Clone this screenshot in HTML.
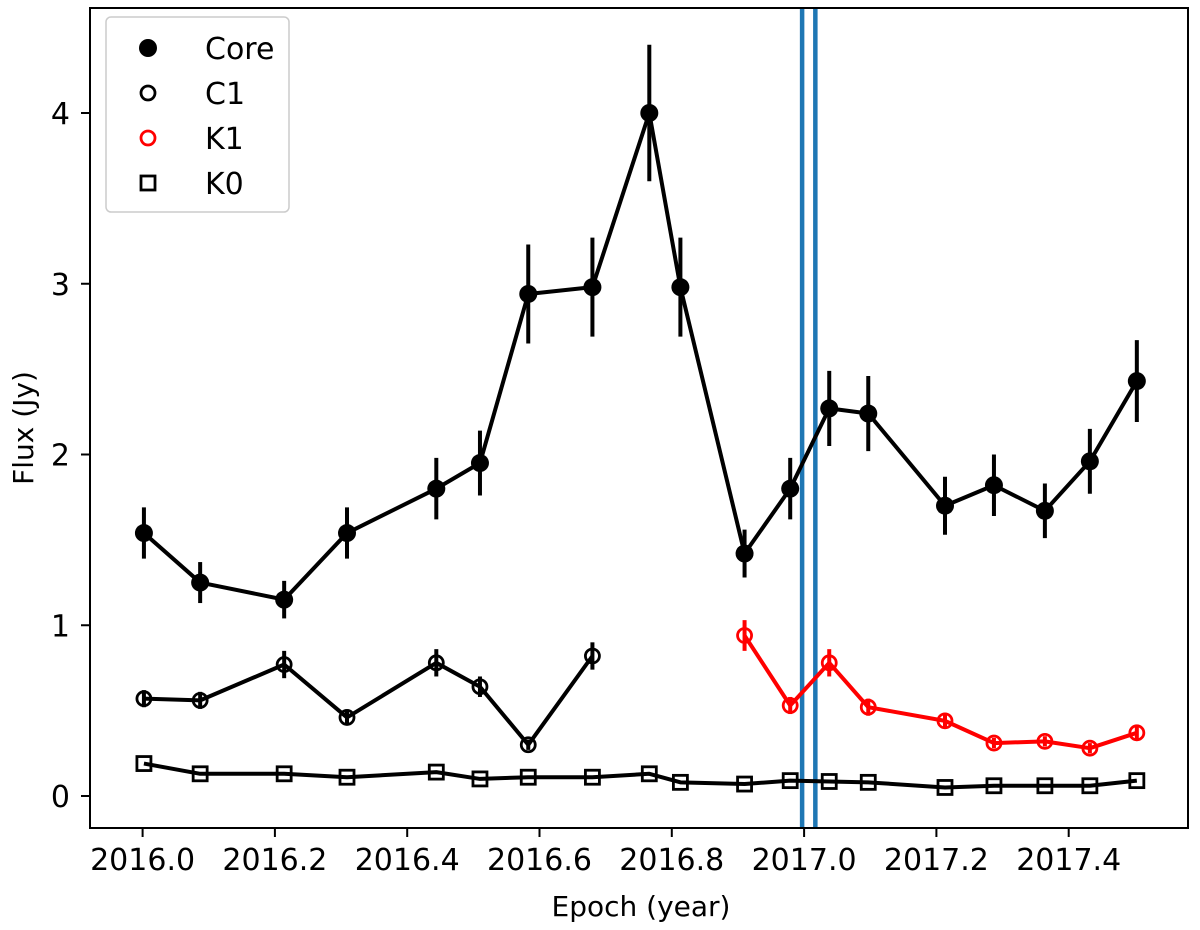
<!DOCTYPE html>
<html><head><meta charset="utf-8">
<style>
body{margin:0;background:#fff;}
svg{display:block;font-family:"DejaVu Sans","Liberation Sans",sans-serif;}
</style></head>
<body>
<svg id="chart" width="1200" height="930" viewBox="0 0 1200 930"></svg>
<script>
const coreX=[2016.002,2016.087,2016.214,2016.309,2016.444,2016.510,2016.583,2016.680,2016.766,2016.813,2016.910,2016.979,2017.038,2017.097,2017.213,2017.287,2017.364,2017.432,2017.503];
const coreY=[1.54,1.25,1.15,1.54,1.80,1.95,2.94,2.98,4.0,2.98,1.42,1.80,2.27,2.24,1.70,1.82,1.67,1.96,2.43];
const coreErr=[0.15,0.12,0.11,0.15,0.18,0.19,0.29,0.29,0.40,0.29,0.14,0.18,0.22,0.22,0.17,0.18,0.16,0.19,0.24];
const c1X=[2016.002,2016.087,2016.214,2016.309,2016.444,2016.510,2016.583,2016.680];
const c1Y=[0.57,0.56,0.77,0.46,0.78,0.64,0.30,0.82];
const c1Err=[0.05,0.05,0.08,0.04,0.08,0.06,0.03,0.08];
const k1X=[2016.910,2016.979,2017.038,2017.097,2017.213,2017.287,2017.364,2017.432,2017.503];
const k1Y=[0.94,0.53,0.78,0.52,0.44,0.31,0.32,0.28,0.37];
const k1Err=[0.09,0.05,0.08,0.05,0.04,0.03,0.03,0.03,0.04];
const k0X=[2016.002,2016.087,2016.214,2016.309,2016.444,2016.510,2016.583,2016.680,2016.766,2016.813,2016.910,2016.979,2017.038,2017.097,2017.213,2017.287,2017.364,2017.432,2017.503];
const k0Y=[0.19,0.13,0.13,0.11,0.14,0.10,0.11,0.11,0.13,0.08,0.07,0.09,0.085,0.08,0.05,0.06,0.06,0.06,0.09];
const vLines=[2016.997,2017.017];
const xTicks=[2016.0,2016.2,2016.4,2016.6,2016.8,2017.0,2017.2,2017.4];
const xTickLabels=["2016.0","2016.2","2016.4","2016.6","2016.8","2017.0","2017.2","2017.4"];
const yTicks=[0,1,2,3,4];
const yTickLabels=["0","1","2","3","4"];

const L=90,R=1188,T=8,B=828;
const X=v=>142.6+(v-2016)*661.5;
const Y=v=>796-v*170.75;
const svg=document.getElementById('chart');
const NS='http://www.w3.org/2000/svg';
function mk(tag,attrs,parent){const e=document.createElementNS(NS,tag);for(const k in attrs)e.setAttribute(k,attrs[k]);(parent||svg).appendChild(e);return e;}

vLines.forEach((v,i)=>{const l=mk('line',{x1:X(v),x2:X(v),y1:T,y2:B,stroke:'#1f77b4','stroke-width':4.5});

});

function series(xs,ys,errs,color,name,marker){
  const g=mk('g',{});
  
  
  mk('polyline',{points:xs.map((x,i)=>X(x)+','+Y(ys[i])).join(' '),fill:'none',stroke:color,'stroke-width':4,'stroke-linejoin':'round'},g);
  xs.forEach((x,i)=>{
    if(errs){const eb=mk('line',{x1:X(x),x2:X(x),y1:Y(ys[i]+errs[i]),y2:Y(ys[i]-errs[i]),stroke:color,'stroke-width':4},g);
      
      }
    let m;
    if(marker==='filled') m=mk('circle',{cx:X(x),cy:Y(ys[i]),r:9,fill:color},g);
    else if(marker==='open') m=mk('circle',{cx:X(x),cy:Y(ys[i]),r:7,fill:'none',stroke:color,'stroke-width':2.8},g);
    else m=mk('rect',{x:X(x)-7,y:Y(ys[i])-7,width:14,height:14,fill:'none',stroke:color,'stroke-width':2.8},g);
    
    
  });
}
series(k0X,k0Y,null,'#000','k0','square');
series(c1X,c1Y,c1Err,'#000','c1','open');
series(k1X,k1Y,k1Err,'#ff0000','k1','open');
series(coreX,coreY,coreErr,'#000','core','filled');

const fr=mk('rect',{x:L,y:T,width:R-L,height:B-T,fill:'none',stroke:'#000','stroke-width':2});



xTicks.forEach((v,i)=>{
  mk('line',{x1:X(v),x2:X(v),y1:B,y2:B+9,stroke:'#000','stroke-width':2});
  const t=mk('text',{x:X(v),y:B+42,'text-anchor':'middle','font-size':30,fill:'#000'});
  t.textContent=xTickLabels[i];
  
  
});
yTicks.forEach((v,i)=>{
  mk('line',{x1:L-9,x2:L,y1:Y(v),y2:Y(v),stroke:'#000','stroke-width':2});
  const t=mk('text',{x:L-20,y:Y(v)+11,'text-anchor':'end','font-size':30,fill:'#000'});
  t.textContent=yTickLabels[i];
  
  
});
const xt=mk('text',{x:641,y:916,'text-anchor':'middle','font-size':28});
xt.textContent='Epoch (year)';


const yt=mk('text',{x:0,y:0,'text-anchor':'middle','font-size':28,transform:'translate(33,428) rotate(-90)'});
yt.textContent='Flux (Jy)';



const lg=mk('g',{});


mk('rect',{x:106,y:17,width:183,height:195,rx:5,fill:'#fff','fill-opacity':0.8,stroke:'#ccc','stroke-width':1.5},lg);
const entries=[['Core','filled','#000'],['C1','open','#000'],['K1','open','#ff0000'],['K0','square','#000']];
entries.forEach((e,i)=>{
  const cy=48+i*45, cx=148;
  const eg=mk('g',{},lg);
  
  
  if(e[1]==='filled') mk('circle',{cx:cx,cy:cy,r:9,fill:e[2]},eg);
  else if(e[1]==='open') mk('circle',{cx:cx,cy:cy,r:7,fill:'none',stroke:e[2],'stroke-width':2.8},eg);
  else mk('rect',{x:cx-7,y:cy-7,width:14,height:14,fill:'none',stroke:e[2],'stroke-width':2.8},eg);
  const t=mk('text',{x:205,y:cy+11,'font-size':30},eg);
  t.textContent=e[0];
});
</script>
</body></html>
